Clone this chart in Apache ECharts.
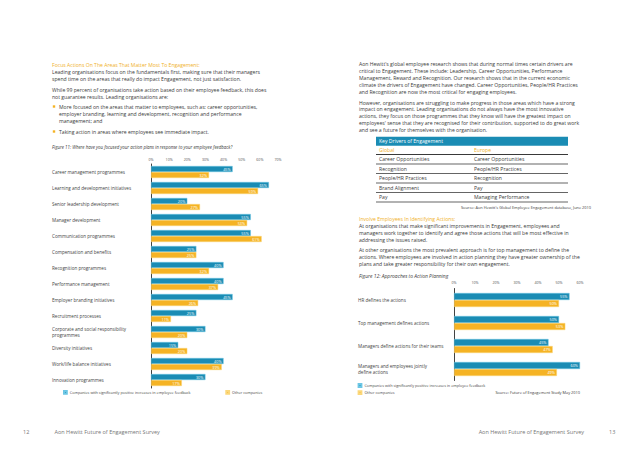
<!DOCTYPE html>
<html>
<head>
<meta charset="utf-8">
<script src="https://cdn.jsdelivr.net/npm/echarts@6/dist/echarts.min.js"></script>
<style>
html,body{margin:0;padding:0;background:#fff;}
#c{width:638px;height:452px;}
</style>
</head>
<body>
<div id="c"></div>
<script>
// ---- Data ----
const categories11 = [
  'Career management programmes',
  'Learning and development initiatives',
  'Senior leadership development',
  'Manager development',
  'Communication programmes',
  'Compensation and benefits',
  'Recognition programmes',
  'Performance management',
  'Employer branding initiatives',
  'Recruitment processes',
  'Corporate and social responsibility\nprogrammes',
  'Diversity initiatives',
  'Work/life balance initiatives',
  'Innovation programmes'
];
const companies11 = [45, 65, 20, 55, 55, 25, 40, 40, 45, 25, 30, 15, 40, 30];
const others11    = [32, 59, 27, 53, 61, 25, 32, 37, 26, 11, 20, 20, 39, 17];

const categories12 = [
  'HR defines the actions',
  'Top management defines actions',
  'Managers define actions for their teams',
  'Managers and employees jointly\ndefine actions'
];
const companies12 = [55, 50, 45, 60];
const others12    = [50, 53, 47, 49];

const seriesNames = ['Companies with significantly positive increases in employee feedback', 'Other companies'];

const driversHeader = ['Global', 'Europe'];
const driversGlobal = ['Career Opportunities', 'Recognition', 'People/HR Practices', 'Brand Alignment', 'Pay'];
const driversEurope = ['Career Opportunities', 'People/HR Practices', 'Recognition', 'Pay', 'Managing Performance'];

const leftHeading = 'Focus Actions On The Areas That Matter Most To Engagement:';
const leftPara1 = ['Leading organisations focus on the fundamentals first, making sure that their managers',
  'spend time on the areas that really do impact Engagement, not just satisfaction.'];
const leftPara2 = ['While 99 percent of organisations take action based on their employee feedback, this does',
  'not guarantee results. Leading organisations are:'];
const leftBullet1 = ['More focused on the areas that matter to employees, such as: career opportunities,',
  'employer branding, learning and development, recognition and performance',
  'management; and'];
const leftBullet2 = ['Taking action in areas where employees see immediate impact.'];
const fig11Title = 'Figure 11: Where have you focused your action plans in response to your employee feedback?';

const rightPara1 = ["Aon Hewitt's global employee research shows that during normal times certain drivers are",
  'critical to Engagement. These include: Leadership, Career Opportunities, Performance',
  'Management, Reward and Recognition. Our research shows that in the current economic',
  'climate the drivers of Engagement have changed. Career Opportunities, People/HR Practices',
  'and Recognition are now the most critical for engaging employees.'];
const rightPara2 = ['However, organisations are struggling to make progress in those areas which have a strong',
  'impact on engagement. Leading organisations do not always have the most innovative',
  'actions, they focus on those programmes that they know will have the greatest impact on',
  "employees' sense that they are recognised for their contribution, supported to do great work",
  'and see a future for themselves with the organisation.'];
const tableTitle = 'Key Drivers of Engagement';
const tableSource = "Source: Aon Hewitt's Global Employee Engagement database, June 2010";
const rightHeading = 'Involve Employees In Identifying Actions:';
const rightPara3 = ['At organisations that make significant improvements in Engagement, employees and',
  'managers work together to identify and agree those actions that will be most effective in',
  'addressing the issues raised.'];
const rightPara4 = ['At other organisations the most prevalent approach is for top management to define the',
  'actions. Where employees are involved in action planning they have greater ownership of the',
  'plans and take greater responsibility for their own engagement.'];
const fig12Title = 'Figure 12: Approaches to Action Planning';
const fig12Source = 'Source: Future of Engagement Study May 2010';
const footerTitle = 'Aon Hewitt Future of Engagement Survey';
const pageLeft = '12', pageRight = '13';

// ---- Styles ----
const BLUE = '#1a8cb4';
const ORANGE = '#f5b324';
const HEAD = '#f0b12a';
const TXT = '#3a3a3a';
const FONT = 'Open Sans';
const BODY = 5.1;

const g = [];
function txt(text, x, y, size, color, extra) {
  const s = {text: text, x: x, y: y, fill: color || TXT,
    font: (extra && extra.fontStyle ? extra.fontStyle + ' ' : '') + size + 'px "' + FONT + '"',
    verticalAlign: 'middle', align: (extra && extra.align) || 'left'};
  g.push({type: 'text', silent: true, style: s});
}
function lines(arr, x, y0, step, size, color, extra) {
  arr.forEach((t, i) => txt(t, x, y0 + i * step, size, color, extra));
}
function rect(x, y, w, h, color) {
  g.push({type: 'rect', silent: true, shape: {x: x, y: y, width: w, height: h}, style: {fill: color}});
}
function hline(x1, x2, y, w) {
  g.push({type: 'line', silent: true, shape: {x1: x1, y1: y, x2: x2, y2: y}, style: {stroke: '#222', lineWidth: w || 0.7}});
}

// Left page text
txt(leftHeading, 52, 65, BODY, HEAD);
lines(leftPara1, 52, 72.2, 7.2, BODY);
lines(leftPara2, 52, 89.6, 7.2, BODY);
rect(52.8, 105.3, 2.4, 2.4, ORANGE);
lines(leftBullet1, 59, 106.5, 7, BODY);
rect(52.8, 130.3, 2.4, 2.4, ORANGE);
lines(leftBullet2, 59, 131.5, 7, BODY);
txt(fig11Title, 52, 147.3, 4.4, TXT, {fontStyle: 'italic'});

// Right page text
lines(rightPara1, 359, 64.3, 7, BODY);
lines(rightPara2, 359, 102.7, 6.7, BODY);
rect(376, 136.7, 192, 9, BLUE);
txt(tableTitle, 379, 141.2, BODY, '#fff');
txt(driversHeader[0], 379, 150, BODY, HEAD);
txt(driversHeader[1], 474, 150, BODY, HEAD);
hline(376, 568, 154.5, 0.9);
driversGlobal.forEach((t, i) => {
  txt(t, 379, 159.3 + i * 9.5, BODY);
  txt(driversEurope[i], 474, 159.3 + i * 9.5, BODY);
  hline(376, 568, 164 + i * 9.5, 0.7);
});
txt(tableSource, 591, 207.3, 3.9, TXT, {align: 'right'});
txt(rightHeading, 359, 219.3, BODY, HEAD);
lines(rightPara3, 359, 226.2, 7, BODY);
lines(rightPara4, 359, 249.9, 6.8, BODY);
txt(fig12Title, 359, 276, 4.95, TXT, {fontStyle: 'italic'});
txt(fig12Source, 580, 392.7, 3.9, TXT, {align: 'right'});

// Footers
txt(pageLeft, 23, 432.3, 5.5, '#777');
txt(footerTitle, 54.5, 432.3, 5.5, '#777');
txt(footerTitle, 584, 432.3, 5.5, '#777', {align: 'right'});
txt(pageRight, 609, 432.3, 5.5, '#777');

function xAxisCfg(idx, max, margin) {
  return {gridIndex: idx, type: 'value', position: 'top', min: 0, max: max, interval: 10,
    axisLabel: {formatter: '{value}%', fontSize: 3.6, color: '#555', margin: margin, fontFamily: FONT},
    axisLine: {show: false}, axisTick: {show: false}, splitLine: {show: false}};
}
function yAxisCfg(idx, data, margin, size) {
  return {gridIndex: idx, type: 'category', data: data, inverse: true,
    axisLine: {lineStyle: {color: '#111', width: 0.8}},
    axisTick: {length: 3, lineStyle: {color: '#111', width: 0.8}},
    axisLabel: {align: 'left', margin: margin, fontSize: size, color: '#444', lineHeight: size * 1.25, fontFamily: FONT}};
}
function barSeries(name, data, color, border, xi, width) {
  return {name: name, type: 'bar', xAxisIndex: xi, yAxisIndex: xi, data: data, barWidth: width, barGap: '0%',
    itemStyle: {color: color, borderColor: border, borderWidth: 0.5},
    label: {show: true, position: 'insideRight', distance: 2, formatter: '{c}%', color: '#fff', fontSize: 3.8, fontFamily: FONT},
    silent: true};
}
function legendCfg(name, left, top) {
  return {data: [name], left: left, top: top, orient: 'horizontal', itemWidth: 2.8, itemHeight: 2.8, itemGap: 0,
    icon: 'rect', padding: 0, selectedMode: false,
    textStyle: {fontSize: 3.75, color: '#444', fontFamily: FONT, padding: [0, 0, 0, -2]}};
}

const option = {
  animation: false,
  backgroundColor: '#fff',
  textStyle: {fontFamily: FONT},
  grid: [
    {left: 151, top: 164, width: 127, height: 224},
    {left: 454, top: 288.5, width: 126, height: 92}
  ],
  xAxis: [xAxisCfg(0, 70, 3), xAxisCfg(1, 60, 4)],
  yAxis: [yAxisCfg(0, categories11, 99, 4.6), yAxisCfg(1, categories12, 96, 4.6)],
  legend: [
    legendCfg(seriesNames[0], 63, 389.9),
    legendCfg(seriesNames[1], 225.3, 389.9),
    legendCfg(seriesNames[0], 357.6, 383.1),
    legendCfg(seriesNames[1], 357.6, 390.3)
  ],
  series: [
    barSeries(seriesNames[0], companies11, BLUE, '#6cc6e4', 0, 6),
    barSeries(seriesNames[1], others11, ORANGE, '#fbd77a', 0, 6),
    barSeries(seriesNames[0], companies12, BLUE, '#6cc6e4', 1, 7),
    barSeries(seriesNames[1], others12, ORANGE, '#fbd77a', 1, 7)
  ],
  graphic: {elements: g}
};

const chart = echarts.init(document.getElementById('c'), null, {renderer: 'svg', width: 638, height: 452});
chart.setOption(option);
</script>
</body>
</html>
